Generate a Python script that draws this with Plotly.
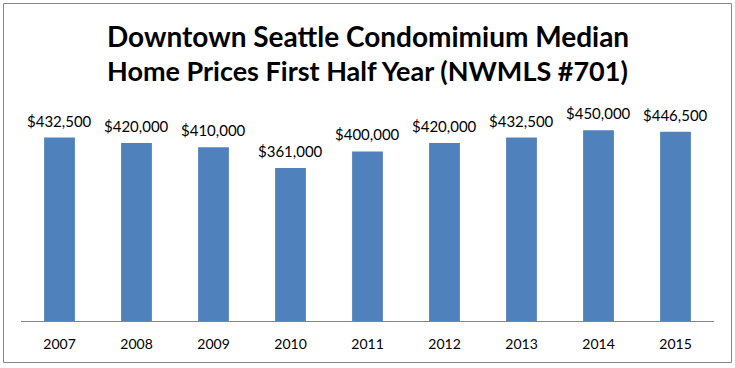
import plotly.graph_objects as go

years = ["2007", "2008", "2009", "2010", "2011", "2012", "2013", "2014", "2015"]
prices = [432500, 420000, 410000, 361000, 400000, 420000, 432500, 450000, 446500]
title_lines = ["Downtown Seattle Condomimium Median", "Home Prices First Half Year (NWMLS #701)"]

W, H = 735, 368
L, R, T, B = 21, 21, 109, 47
pw, ph = W - L - R, H - T - B

labels = ["${:,}".format(v) for v in prices]

fig = go.Figure(go.Bar(
    x=years, y=prices,
    marker=dict(color="#4F81BD", line=dict(width=0)),
    hoverinfo="skip",
))

def px_x(x):
    return (x - L) / pw

def px_y(y):
    return (H - B - y) / ph

fig.update_layout(
    width=W, height=H,
    margin=dict(l=L, r=R, t=T, b=B),
    paper_bgcolor="white", plot_bgcolor="white",
    bargap=0.6, showlegend=False,
    font=dict(family="Lato", color="#000000"),
    xaxis=dict(type="category", range=[-0.5, len(years) - 0.5],
               showline=True, linecolor="#868686", linewidth=1, ticks="",
               tickfont=dict(size=14, color="#000000"), showgrid=False, zeroline=False,
               ticklabelstandoff=10, fixedrange=True),
    yaxis=dict(range=[0, 500000], visible=False, showgrid=False, zeroline=False,
               fixedrange=True),
    shapes=[dict(type="rect", xref="paper", yref="paper",
                 x0=px_x(3.5), x1=px_x(731.5), y0=px_y(362.5), y1=px_y(3.5),
                 line=dict(color="#878787", width=1), layer="below")],
)

# category index positions on the category axis
for i, (v, lab) in enumerate(zip(prices, labels)):
    fig.add_annotation(x=i, y=v, text=lab, showarrow=False, xanchor="center",
                       yanchor="middle", yshift=17,
                       font=dict(family="Lato", size=15, color="#000000"))

for t, yc, fs in zip(title_lines, [35.5, 71], [28, 27]):
    fig.add_annotation(text="<b>%s</b>" % t, xref="paper", yref="paper",
                       x=px_x(367.5), y=px_y(yc), xanchor="center", yanchor="middle",
                       showarrow=False, font=dict(family="Lato", size=fs, color="#000000"))

fig.write_html("out.html", config={"displayModeBar": False},
               post_script="document.body.style.margin='0px';document.body.style.overflow='hidden';")
